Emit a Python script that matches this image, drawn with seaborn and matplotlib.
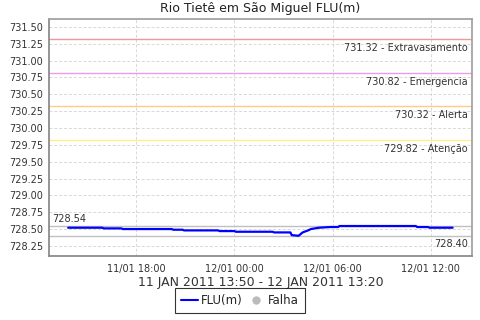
import matplotlib
matplotlib.use("Agg")
import matplotlib.pyplot as plt
import matplotlib.dates as mdates
from matplotlib.lines import Line2D
import seaborn as sns
import pandas as pd

sns.set_theme(style="white")
plt.rcParams['font.family'] = ['DejaVu Sans']

title = "Rio Tietê em São Miguel FLU(m)"
xlabel = "11 JAN 2011 13:50 - 12 JAN 2011 13:20"

times = ["2011-01-11 13:50", "2011-01-11 15:55", "2011-01-11 16:00", "2011-01-11 17:05",
         "2011-01-11 17:10", "2011-01-11 20:10", "2011-01-11 20:15", "2011-01-11 20:50",
         "2011-01-11 20:55", "2011-01-11 23:00", "2011-01-11 23:05", "2011-01-12 00:00",
         "2011-01-12 00:05", "2011-01-12 02:20", "2011-01-12 02:25", "2011-01-12 03:25",
         "2011-01-12 03:30", "2011-01-12 03:55", "2011-01-12 04:10", "2011-01-12 04:30",
         "2011-01-12 04:40", "2011-01-12 05:10", "2011-01-12 05:50", "2011-01-12 06:20",
         "2011-01-12 06:25", "2011-01-12 11:05", "2011-01-12 11:10", "2011-01-12 11:50",
         "2011-01-12 11:55", "2011-01-12 13:20"]
values = [728.52, 728.52, 728.51, 728.51,
          728.50, 728.50, 728.49, 728.49,
          728.48, 728.48, 728.47, 728.47,
          728.46, 728.46, 728.45, 728.45,
          728.41, 728.40, 728.45, 728.48,
          728.50, 728.52, 728.53, 728.53,
          728.545, 728.545, 728.53, 728.53,
          728.52, 728.52]

thr_values = [731.32, 730.82, 730.32, 729.82]
thr_labels = ["731.32 - Extravasamento", "730.82 - Emergencia", "730.32 - Alerta", "729.82 - Atenção"]
thr_colors = ["#ee9999", "#ee99ee", "#ffcc88", "#ffee88"]
max_val, min_val = 728.54, 728.40
yticks = [728.25, 728.50, 728.75, 729.00, 729.25, 729.50, 729.75, 730.00,
          730.25, 730.50, 730.75, 731.00, 731.25, 731.50]
xticks = ["2011-01-11 18:00", "2011-01-12 00:00", "2011-01-12 06:00", "2011-01-12 12:00"]

df = pd.DataFrame({"t": pd.to_datetime(times), "v": values})

fig = plt.figure(figsize=(4.8, 3.2), dpi=100)
ax = fig.add_axes([0.102, 0.2, 0.881, 0.741])

for v, lab, c in zip(thr_values, thr_labels, thr_colors):
    ax.axhline(v, color=c, lw=1.0, zorder=2)
    ax.text(0.99, v - 0.06, lab, transform=ax.get_yaxis_transform(), ha="right", va="top",
            fontsize=7, color="#333333")
ax.axhline(max_val, color="#c0c0c0", lw=1.0, zorder=2)
ax.axhline(min_val, color="#c0c0c0", lw=1.0, zorder=2)
ax.text(0.007, max_val + 0.04, f"{max_val:.2f}", transform=ax.get_yaxis_transform(),
        ha="left", va="bottom", fontsize=7, color="#333333")
ax.text(0.99, min_val - 0.05, f"{min_val:.2f}", transform=ax.get_yaxis_transform(),
        ha="right", va="top", fontsize=7, color="#333333")

sns.lineplot(data=df, x="t", y="v", ax=ax, color="#0000ff", lw=1.6, zorder=3)

t0, t1 = df["t"].min(), df["t"].max()
span = t1 - t0
ax.set_xlim(t0 - span * 0.05, t1 + span * 0.05)
ax.set_ylim(728.10, 731.62)
ax.set_yticks(yticks)
ax.set_yticklabels([f"{y:.2f}" for y in yticks])
ax.set_xticks(pd.to_datetime(xticks))
ax.xaxis.set_major_formatter(mdates.DateFormatter("%d/%m %H:%M"))
ax.tick_params(axis="both", labelsize=7, colors="#333333", length=2, pad=2)
ax.tick_params(axis="x", labelsize=7, pad=4)
ax.grid(True, color="#d8d8d8", ls=(0, (3, 2)), lw=0.7)
for s in ax.spines.values():
    s.set_color("#a0a0a0")
ax.spines["left"].set_color("#888888")
ax.spines["bottom"].set_color("#888888")
ax.set_xlabel(xlabel, fontsize=9, color="#333333", labelpad=1)
ax.set_ylabel("")
ax.set_title(title, fontsize=9, color="#222222", pad=5)

handles = [Line2D([], [], color="#0000ff", lw=1.5),
           Line2D([], [], marker="o", ls="", color="#bbbbbb", markersize=5)]
leg = fig.legend(handles, ["FLU(m)", "Falha"], loc="center", bbox_to_anchor=(0.5, 0.062),
                 ncol=2, fontsize=8.5, frameon=True, fancybox=False, handlelength=1.4,
                 handletextpad=0.3, columnspacing=0.4, borderpad=0.5, borderaxespad=0)
leg.get_frame().set_edgecolor("black")
leg.get_frame().set_linewidth(0.8)

fig.savefig("out.png", dpi=100)
